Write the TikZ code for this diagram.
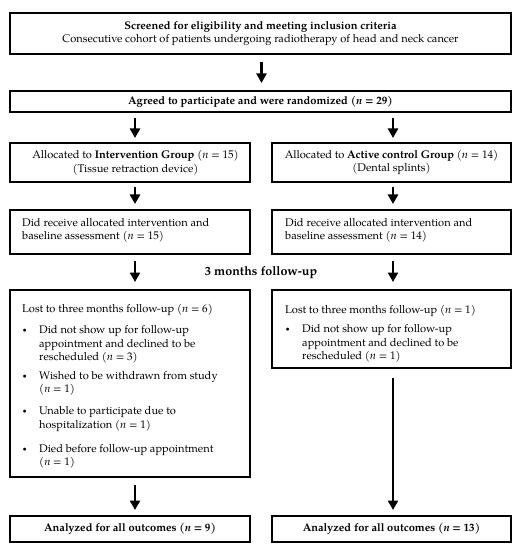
\documentclass[tikz,border=0pt]{standalone}
\usepackage{fontspec}
\setmainfont{TeX Gyre Pagella}
\usetikzlibrary{arrows.meta}
\newcommand\myitem[1]{\makebox[17bp][l]{\hspace*{0.5bp}\raisebox{0.8bp}{\fontsize{7.5bp}{7.5bp}\selectfont\textbullet}}\parbox[t]{200bp}{#1}}
\begin{document}
\begin{tikzpicture}[x=1bp,y=-1bp,
  box/.style={draw, line width=2.6bp, inner sep=0pt, outer sep=0pt, align=center},
  arr/.style={-{Triangle[width=10bp,length=9.5bp]}, line width=2.5bp},
  txt/.style={inner sep=0pt, anchor=base west},
  font=\fontsize{11.1bp}{13.5bp}\selectfont]
\useasboundingbox (0,0) rectangle (521,550);
% boxes
\node[box, minimum width=501bp, minimum height=41bp] (b1) at (260.5,33.5)
  {\textbf{Screened for eligibility and meeting inclusion criteria}\\Consecutive cohort of patients undergoing radiotherapy of head and neck cancer};
\node[box, minimum width=501bp, minimum height=21bp] (b2) at (260.5,101.5)
  {\textbf{Agreed to participate and were randomized (\textit{n} = 29)}};
\node[box, minimum width=240bp, minimum height=39bp] (b3l) at (130,162.5)
  {\hspace*{11bp}Allocated to \textbf{Intervention Group} (\textit{n} = 15)\\\hspace*{11bp}(Tissue retraction device)};
\node[box, minimum width=239bp, minimum height=39bp] (b3r) at (391.5,162.5)
  {Allocated to \textbf{Active control Group} (\textit{n} = 14)\\(Dental splints)};
\node[box, minimum width=240bp, minimum height=44bp] (b4l) at (130,232) {};
\node[box, minimum width=239bp, minimum height=44bp] (b4r) at (391.5,232) {};
\node[box, minimum width=240bp, minimum height=187bp] (b5l) at (130,383.5) {};
\node[box, minimum width=239bp, minimum height=78bp] (b5r) at (391.5,329) {};
\node[box, minimum width=240bp, minimum height=26bp] (b6l) at (130,529)
  {\textbf{Analyzed for all outcomes (\textit{n} = 9)}};
\node[box, minimum width=239bp, minimum height=26bp] (b6r) at (391.5,529)
  {\textbf{Analyzed for all outcomes (\textit{n} = 13)}};
% texts
\node[txt] (t4l) at (22,226.5) {\parbox[t]{225bp}{\fontsize{11.1bp}{12.5bp}\selectfont Did receive allocated intervention and\\baseline assessment (\textit{n} = 15)}};
\node[txt] (t4r) at (285,226.5) {\parbox[t]{225bp}{\fontsize{11.1bp}{12.5bp}\selectfont Did receive allocated intervention and\\baseline assessment (\textit{n} = 14)}};
\node[inner sep=0pt] (fu) at (261,273) {\fontsize{12.5bp}{14bp}\selectfont\bfseries 3 months follow-up};
\node[txt] (l0) at (22,312.5) {Lost to three months follow-up (\textit{n} = 6)};
\node[txt] (l1) at (22,333.5) {\myitem{Did not show up for follow-up\\appointment and declined to be\\rescheduled (\textit{n} = 3)}};
\node[txt] (l2) at (22,379) {\myitem{Wished to be withdrawn from study\\(\textit{n} = 1)}};
\node[txt] (l3) at (22,414.5) {\myitem{Unable to participate due to\\hospitalization (\textit{n} = 1)}};
\node[txt] (l4) at (22,452) {\myitem{Died before follow-up appointment\\(\textit{n} = 1)}};
\node[txt] (r0) at (285,313.5) {Lost to three months follow-up (\textit{n} = 1)};
\node[txt] (r1) at (285,332.5) {\myitem{Did not show up for follow-up\\appointment and declined to be\\rescheduled (\textit{n} = 1)}};
% arrows
\coordinate (cM) at (261.5,0);
\coordinate (cL) at (135,0);
\coordinate (cR) at (393,0);
\draw[arr, shorten <=8bp, shorten >=8bp] (b1.south -| cM) -- (b2.north -| cM);
\draw[arr, shorten <=6bp, shorten >=5bp] (b2.south -| cL) -- (b3l.north -| cL);
\draw[arr, shorten <=6bp, shorten >=5bp] (b2.south -| cR) -- (b3r.north -| cR);
\draw[arr, shorten <=5bp, shorten >=6bp] (b3l.south -| cL) -- (b4l.north -| cL);
\draw[arr, shorten <=5bp, shorten >=6bp] (b3r.south -| cR) -- (b4r.north -| cR);
\draw[arr, shorten <=7bp, shorten >=8bp] (b4l.south -| cL) -- (b5l.north -| cL);
\draw[arr, shorten <=7bp, shorten >=8bp] (b4r.south -| cR) -- (b5r.north -| cR);
\draw[arr, shorten <=8bp, shorten >=6bp] (b5l.south -| cL) -- (b6l.north -| cL);
\draw[arr, shorten <=10bp, shorten >=6bp] (b5r.south -| cR) -- (b6r.north -| cR);
\end{tikzpicture}
\end{document}
